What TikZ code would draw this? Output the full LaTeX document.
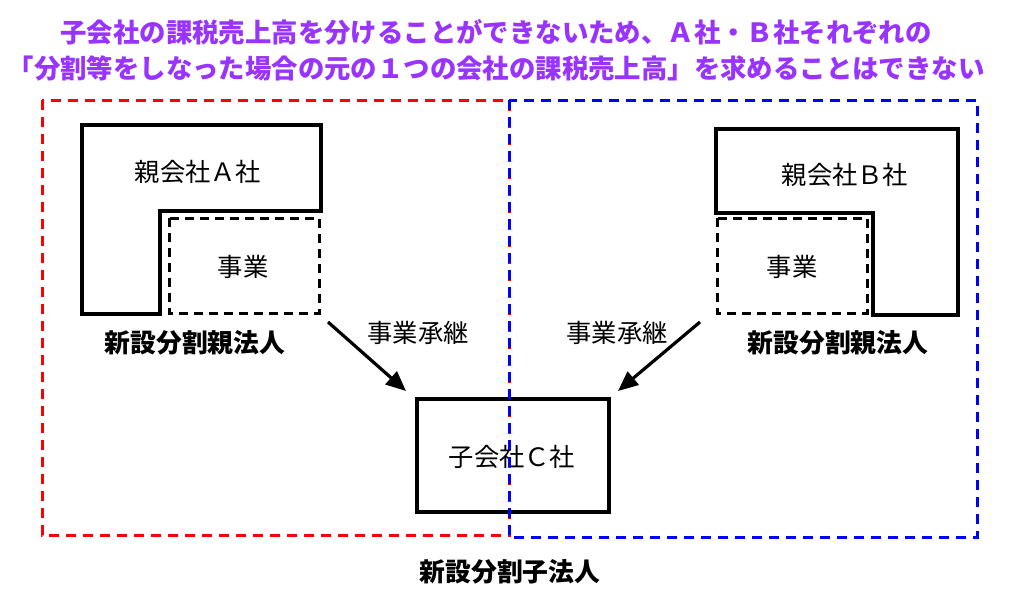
\documentclass[tikz,border=0pt]{standalone}
\usepackage{fontspec}
\newfontfamily\jp{Noto Sans CJK JP}
\usetikzlibrary{arrows.meta}
\definecolor{ttlpurple}{RGB}{153,51,255}
\definecolor{dred}{RGB}{255,0,0}
\definecolor{dblue}{RGB}{0,0,255}
\tikzset{
  ttl/.style={text=ttlpurple, font=\jp\bfseries\fontsize{26.4}{30}\selectfont, inner sep=0pt},
  lbl/.style={font=\jp\fontsize{25.3}{30}\selectfont, inner sep=0pt},
  blbl/.style={font=\jp\bfseries\fontsize{25.8}{30}\selectfont, inner sep=0pt},
  solidbox/.style={draw=black, line width=3.3pt},
  dashbox/.style={draw=black, line width=3pt, dash pattern=on 9pt off 6pt},
  redarea/.style={draw=dred, line width=3pt, dash pattern=on 10pt off 7pt},
  bluearea/.style={draw=dblue, line width=3pt, dash pattern=on 10pt off 7pt},
  arr/.style={line width=3.2pt, -{Triangle[length=20pt,width=17pt]}}
}
\begin{document}
\begin{tikzpicture}[x=1pt,y=-1pt]
\useasboundingbox (0,0) rectangle (1024,594);
% title
\node[ttl] (t1) at (496,32) {子会社の課税売上高を分けることができないため、Ａ社・Ｂ社それぞれの};
\node[ttl] (t2) at (496,68) {「分割等をしなった場合の元の１つの会社の課税売上高」を求めることはできない};
% red area
\draw[redarea] (42,100) rectangle (509,535);
% company A
\draw[solidbox] (82,125) -- (321,125) -- (321,211) -- (160,211) -- (160,314) -- (82,314) -- cycle;
\node[lbl] (pa) at (198,172) {親会社Ａ社};
\draw[dashbox] (169,218) rectangle (319,313);
\node[lbl] (ja) at (243,267) {事業};
\node[blbl] (la) at (195,343) {新設分割親法人};
% company B
\draw[solidbox] (716,129) -- (958,129) -- (958,315) -- (873,315) -- (873,213) -- (716,213) -- cycle;
\node[lbl] (pb) at (845,175) {親会社Ｂ社};
\draw[dashbox] (717,218) rectangle (867,313);
\node[lbl] (jb) at (792,267) {事業};
\node[blbl] (lb) at (838,343) {新設分割親法人};
% company C
\node[solidbox, minimum width=192pt, minimum height=113pt, inner sep=0pt] (c) at (513,455.5) {};
\node[lbl] (ct) at (512,457) {子会社Ｃ社};
\node[blbl] (lc) at (510,572) {新設分割子法人};
% arrows
\coordinate (a1s) at (328,322);
\coordinate (a1e) at (406,391);
\coordinate (a2s) at (700,322);
\coordinate (a2e) at (618,391);
\draw[arr] (a1s) -- (a1e);
\draw[arr] (a2s) -- (a2e);
\node[lbl] (sa) at (418,333) {事業承継};
\node[lbl] (sb) at (617,333) {事業承継};
% blue area
\draw[bluearea] (509,100) rectangle (977,537);
\end{tikzpicture}
\end{document}
